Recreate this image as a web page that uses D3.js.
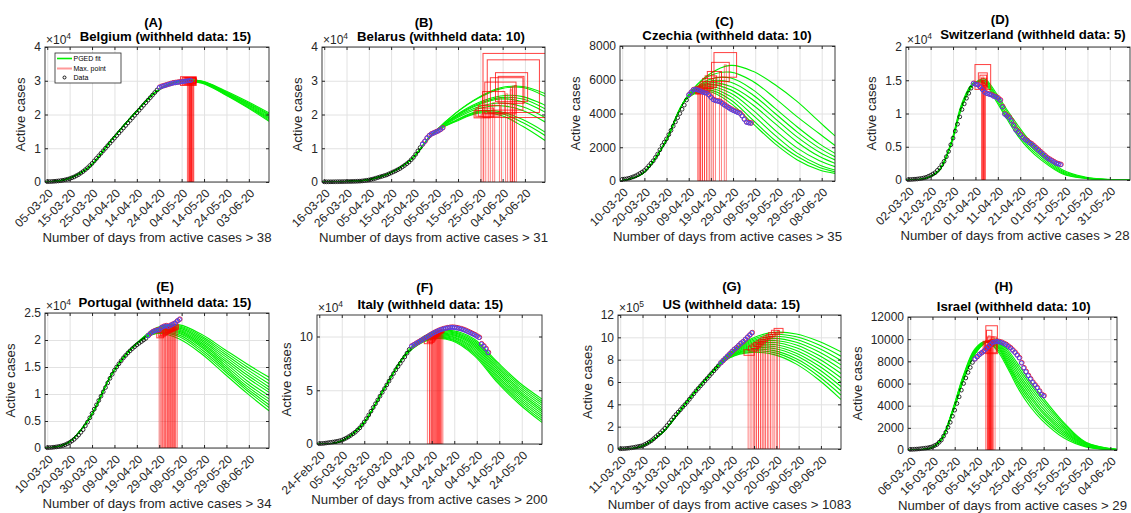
<!DOCTYPE html>
<html>
<head>
<meta charset="utf-8">
<script src="https://cdn.jsdelivr.net/npm/d3@7"></script>
<style>
  html, body { margin: 0; padding: 0; background: #fff; }
  svg { display: block; font-family: "Liberation Sans", Arial, Helvetica, sans-serif; }
</style>
</head>
<body>
<svg id="fig" width="1131" height="513"></svg>
<script>
'use strict'

// ---- shared axis data ----
const tickDays = [1, 11, 21, 31, 41, 51, 61, 71, 81, 91]
const tenDays = [0, 10, 20, 30, 40, 50, 60, 70, 80, 90, 100]

// ---- (A) Belgium ----  (observations are daily, starting at day 1)
const belgiumTicks = ['05-03-20', '15-03-20', '25-03-20', '04-04-20', '14-04-20', '24-04-20', '04-05-20', '14-05-20', '24-05-20', '03-06-20']
const belgiumObs = [100, 120, 150, 200, 250, 320, 400, 520, 650, 800, 1000, 1250, 1500, 1850, 2200, 2650, 3100, 3650, 4200, 4850,
  5500, 6250, 7000, 7750, 8500, 9250, 10000, 10750, 11500, 12250, 13000, 13750, 14500, 15250, 16000, 16750, 17500, 18250, 19000, 19750,
  20500, 21250, 22000, 22750, 23500, 24250, 25000, 25750, 26500, 27250]
const belgiumNew = [28000, 28300, 28500, 28700, 28900, 29100, 29300, 29400, 29500, 29600, 29700, 29800, 29900, 30000, 30100]
const belgiumFits = [
  [0, 900, 4600, 12700, 20300, 27000, 30000, 29900, 27200, 24000, 20500],
  [0, 900, 4600, 12700, 20300, 27000, 30000, 29850, 27000, 23700, 20100],
  [0, 900, 4600, 12700, 20300, 27000, 29950, 29800, 26850, 23450, 19800],
  [0, 900, 4600, 12700, 20300, 27000, 29900, 29700, 26650, 23200, 19400],
  [0, 900, 4600, 12700, 20300, 26950, 29850, 29600, 26500, 22950, 19050],
  [0, 900, 4600, 12700, 20300, 26950, 29800, 29500, 26300, 22700, 18700],
  [0, 900, 4600, 12700, 20300, 26900, 29750, 29400, 26150, 22450, 18350],
  [0, 900, 4600, 12700, 20300, 26900, 29700, 29300, 26000, 22200, 18000]
]
// [day, value, half-width in days, half-height in cases]
const belgiumPeaks = [[64.0, 29900, 3.5, 1300], [64.3, 29900, 3, 1100], [64.6, 29950, 2.5, 1000], [64.9, 30000, 2.2, 900],
  [65.2, 30000, 2, 800], [65.5, 30050, 1.8, 700], [65.8, 30100, 1.6, 700], [66.0, 30150, 1.5, 600]]

// ---- (B) Belarus ----
const belarusTicks = ['16-03-20', '26-03-20', '05-04-20', '15-04-20', '25-04-20', '05-05-20', '15-05-20', '25-05-20', '04-06-20', '14-06-20']
const belarusObs = [50, 55, 60, 65, 70, 80, 90, 100, 110, 120, 130, 145, 160, 180, 200, 230, 260, 320, 400, 500,
  600, 750, 900, 1100, 1300, 1500, 1700, 1900, 2100, 2400, 2700, 3000, 3300, 3650, 4000, 4450, 4900, 5400, 5900, 6600,
  7300, 8200, 9200, 10200]
const belarusNew = [11200, 12000, 13000, 13700, 14200, 14500, 14800, 15100, 15500, 16000]
const belarusFits = [
  [0, 120, 600, 2500, 6700, 14500, 20500, 25000, 27900, 28300, 26200],
  [0, 120, 600, 2500, 6700, 14500, 20400, 24800, 27600, 28000, 25400],
  [0, 120, 600, 2500, 6700, 14500, 19800, 23500, 25500, 25300, 22700],
  [0, 120, 600, 2500, 6700, 14500, 19600, 23100, 25000, 24600, 21700],
  [0, 120, 600, 2500, 6700, 14500, 19400, 22800, 24600, 23800, 20700],
  [0, 120, 600, 2500, 6700, 14500, 19100, 22200, 23400, 22300, 19100],
  [0, 120, 600, 2500, 6700, 14500, 18800, 21700, 22600, 21200, 17800],
  [0, 120, 600, 2500, 6700, 14500, 18300, 21000, 20800, 18500, 14800],
  [0, 120, 600, 2500, 6700, 14500, 18100, 20700, 20400, 17600, 13800],
  [0, 120, 600, 2500, 6700, 14500, 17900, 20400, 19800, 16500, 12300]
]
const belarusPeaks = [[86.7, 28600, 14.5, 9500], [85.8, 28400, 11.7, 7800], [85, 28100, 7.2, 4300], [84.8, 27300, 5.8, 4000],
  [82.8, 26100, 7.3, 4800], [80, 24900, 7, 4700], [77, 23500, 5, 3300], [75, 21100, 4.9, 1600], [73, 20600, 4, 1300], [71.8, 20100, 3.6, 1100]]

// ---- (C) Czechia ----
const czechiaTicks = ['10-03-20', '20-03-20', '30-03-20', '09-04-20', '19-04-20', '29-04-20', '09-05-20', '19-05-20', '29-05-20', '08-06-20']
const czechiaObs = [100, 115, 130, 160, 200, 250, 300, 370, 450, 530, 620, 750, 900, 1050, 1200, 1400, 1600, 1850, 2100, 2300,
  2500, 2750, 3000, 3250, 3500, 3750, 4000, 4250, 4500, 4800]
const czechiaNew = [5100, 5250, 5400, 5430, 5400, 5350, 5280, 5230, 5200, 5100, 4950, 4820, 4760, 4730, 4700, 4600, 4500, 4420, 4330,
  4250, 4180, 4120, 4060, 4010, 3850, 3650, 3480, 3440, 3420]
const czechiaFitDays = [0, 10, 20, 30, 40, 50, 60, 70, 80, 90, 97]
const czechiaFits = [
  [0, 420, 2200, 4950, 6300, 6850, 6500, 5700, 4700, 3500, 2670],
  [0, 420, 2200, 4940, 6200, 6450, 5900, 4900, 3800, 2800, 2100],
  [0, 420, 2200, 4930, 6000, 6100, 5400, 4300, 3200, 2200, 1640],
  [0, 420, 2200, 4920, 5900, 5850, 5100, 4000, 2900, 1950, 1440],
  [0, 420, 2200, 4910, 5800, 5600, 4800, 3700, 2600, 1700, 1250],
  [0, 420, 2200, 4900, 5700, 5400, 4500, 3400, 2300, 1450, 1050],
  [0, 420, 2200, 4890, 5600, 5200, 4200, 3000, 1950, 1200, 850],
  [0, 420, 2200, 4880, 5500, 5000, 3900, 2700, 1650, 950, 650],
  [0, 420, 2200, 4870, 5400, 4800, 3600, 2400, 1450, 800, 550],
  [0, 420, 2200, 4860, 5300, 4600, 3400, 2200, 1250, 650, 450]
]
const czechiaPeaks = [[47.5, 6880, 5.1, 730], [45.3, 6460, 4, 570], [42.6, 6090, 3.2, 400], [41, 5890, 2.6, 340], [39.7, 5780, 2.4, 300],
  [38.6, 5620, 2.1, 270], [37.7, 5500, 1.8, 240], [36.8, 5420, 1.6, 220], [36, 5380, 1.5, 200], [35.5, 5350, 1.4, 200]]

// ---- (D) Switzerland ----
const swissTicks = ['02-03-20', '12-03-20', '22-03-20', '01-04-20', '11-04-20', '21-04-20', '01-05-20', '11-05-20', '21-05-20', '31-05-20']
const swissObs = [50, 75, 100, 125, 150, 200, 250, 320, 400, 550, 700, 900, 1100, 1450, 1800, 2300, 2800, 3500, 4300, 5300,
  6300, 7350, 8400, 9500, 10600, 11450, 12300, 13050, 13800]
const swissNew = [14500, 14400, 14300, 14000, 13600, 13200, 13000, 12900, 12800, 12600, 12500, 12300, 12000, 11000, 9900, 9600, 9400,
  8900, 8200, 7500, 7200, 6800, 6400, 6100, 5900, 5600, 5400, 5100, 4800, 4500, 4200, 3900, 3600, 3300, 3100, 2900, 2700, 2500, 2400, 2300]
const swissFitDays = [0, 5, 10, 15, 20, 25, 30, 35, 40, 45, 50, 55, 60, 70, 80, 90, 100]
const swissFits = [
  [0, 60, 400, 1500, 5200, 11000, 14300, 15200, 13200, 10600, 8200, 6000, 4400, 1500, 450, 100, 20],
  [0, 60, 400, 1500, 5200, 11000, 14300, 15000, 12900, 10300, 7800, 5700, 4100, 1300, 380, 80, 15],
  [0, 60, 400, 1500, 5300, 11200, 14400, 14900, 12600, 9900, 7400, 5300, 3700, 1150, 320, 70, 10],
  [0, 60, 400, 1600, 5400, 11400, 14500, 14700, 12300, 9500, 7000, 4900, 3400, 1000, 280, 60, 10],
  [0, 60, 400, 1600, 5500, 11600, 14600, 14500, 12000, 9200, 6600, 4600, 3100, 900, 250, 50, 10]
]
const swissPeaks = [[34.3, 15490, 3.5, 1870], [34.3, 14940, 2, 1170], [34.5, 14840, 1.5, 920], [34.8, 14700, 1.2, 600], [35, 14600, 0.9, 400]]

// ---- (E) Portugal ----
const portugalTicks = ['10-03-20', '20-03-20', '30-03-20', '09-04-20', '19-04-20', '29-04-20', '09-05-20', '19-05-20', '29-05-20', '08-06-20']
const portugalObs = [50, 75, 100, 150, 200, 270, 350, 470, 600, 800, 1000, 1300, 1600, 2000, 2400, 2900, 3400, 4100, 4800, 5600,
  6400, 7200, 8000, 8800, 9600, 10400, 11200, 12050, 12900, 13650, 14400, 15000, 15600, 16150, 16700, 17150, 17600, 18000, 18400, 18750,
  19100, 19400, 19700, 20000, 20300]
const portugalNew = [20800, 21200, 21500, 21700, 21800, 21900, 22300, 22500, 22600, 22500, 22700, 22900, 23100, 23500, 23800]
const portugalFits = [
  [0, 900, 5600, 13800, 19000, 22300, 22800, 21000, 18300, 15600, 13100],
  [0, 900, 5600, 13800, 19000, 22200, 22600, 20700, 17900, 15100, 12500],
  [0, 900, 5600, 13800, 19000, 22100, 22400, 20400, 17500, 14600, 11900],
  [0, 900, 5600, 13800, 19000, 22000, 22200, 20100, 17100, 14100, 11300],
  [0, 900, 5600, 13800, 19000, 21900, 22000, 19800, 16700, 13600, 10800],
  [0, 900, 5600, 13800, 19000, 21800, 21800, 19500, 16300, 13100, 10300],
  [0, 900, 5600, 13800, 19000, 21700, 21600, 19200, 15900, 12500, 9700],
  [0, 900, 5600, 13800, 19000, 21600, 21400, 18900, 15500, 12000, 9100],
  [0, 900, 5600, 13800, 19000, 21500, 21200, 18600, 15100, 11500, 8600],
  [0, 900, 5600, 13800, 19000, 21400, 20900, 18200, 14700, 11100, 8000],
  [0, 900, 5600, 13800, 19000, 21300, 20600, 17800, 14300, 10700, 7500],
  [0, 900, 5600, 13800, 19000, 21200, 20200, 17400, 13800, 10200, 6900]
]
const portugalPeaks = [[51.4, 20900, 1.5, 500], [52.2, 21100, 1.4, 500], [53, 21300, 1.4, 480], [53.6, 21500, 1.3, 460], [54.3, 21700, 1.3, 450],
  [55, 21800, 1.2, 440], [55.6, 21900, 1.2, 430], [56.2, 22000, 1.2, 420], [56.8, 22100, 1.1, 410], [57.4, 22200, 1.1, 400], [58, 22300, 1, 400], [58.6, 22400, 1, 400]]

// ---- (F) Italy ----
const italyTicks = ['24-Feb-20', '05-03-20', '15-03-20', '25-03-20', '04-04-20', '14-04-20', '24-04-20', '04-05-20', '14-05-20', '24-05-20']
const italyObs = [300, 450, 600, 900, 1200, 1500, 1800, 2150, 2500, 3000, 3500, 4500, 5500, 6700, 8000, 9500, 11000, 13000, 15000, 17700,
  20500, 23700, 27000, 30500, 34000, 37500, 41000, 44500, 48000, 51500, 55000, 58500, 62000, 65500, 69000, 72000, 75000, 78000, 81000, 84500, 88000]
const italyNew = [91000, 92200, 93500, 94700, 96000, 97200, 98500, 99700, 101000, 102300, 103500, 104500, 105500, 106300, 107000, 107500,
  108000, 108300, 108500, 108300, 108000, 107500, 107000, 106300, 105500, 104500, 103500, 102500, 101500, 100200, 99000, 93000, 91000, 88500, 85000]
const italyFits = [
  [0, 2000, 17500, 52000, 85500, 103000, 105500, 97500, 76500, 57000, 41800],
  [0, 2000, 17500, 52000, 85400, 102500, 104600, 96100, 74800, 55200, 39800],
  [0, 2000, 17500, 52000, 85300, 101900, 103800, 94700, 73000, 53400, 37900],
  [0, 2000, 17500, 52000, 85100, 101400, 102900, 93300, 71300, 51500, 35900],
  [0, 2000, 17500, 52000, 85000, 100800, 102000, 91900, 69600, 49700, 33900],
  [0, 2000, 17500, 52000, 84900, 100300, 101200, 90500, 67900, 47900, 31900],
  [0, 2000, 17500, 52000, 84700, 99700, 100300, 89000, 66100, 46100, 30000],
  [0, 2000, 17500, 52000, 84600, 99200, 99500, 87600, 64400, 44300, 28000],
  [0, 2000, 17500, 52000, 84500, 98600, 98600, 86200, 62700, 42500, 26000],
  [0, 2000, 17500, 52000, 84300, 98100, 97700, 84800, 60900, 40600, 24100],
  [0, 2000, 17500, 52000, 84200, 97500, 96900, 83400, 59200, 38800, 22100],
  [0, 2000, 17500, 52000, 84000, 97000, 96000, 82000, 57500, 37000, 20100]
]
const italyPeaks = [[49.5, 95500, 1.8, 2200], [50.5, 96500, 1.5, 2000], [51, 97500, 1.4, 1800], [51.5, 98500, 1.3, 1700], [52, 99500, 1.2, 1600],
  [52.5, 100500, 1.2, 1500], [53, 101500, 1.1, 1500], [53.5, 102500, 1.1, 1400], [54, 103500, 1, 1400], [54.5, 104000, 1, 1300], [55, 104500, 1, 1300], [55.5, 105000, 1, 1200]]

// ---- (G) US ----
const usTicks = ['11-03-20', '21-03-20', '31-03-20', '10-04-20', '20-04-20', '30-04-20', '10-05-20', '20-05-20', '30-05-20', '09-06-20']
const usObs = [2000, 3000, 4000, 6000, 8000, 11000, 14000, 18000, 22000, 26000, 30000, 40000, 50000, 62000, 75000, 92000, 110000, 127000,
  145000, 165000, 185000, 210000, 235000, 260000, 285000, 308000, 330000, 352000, 375000, 397000, 420000, 445000, 470000, 495000, 520000,
  542000, 565000, 587000, 610000, 632000, 655000, 677000, 700000, 722000, 745000]
const usNew = [770000, 790000, 810000, 830000, 850000, 870000, 890000, 905000, 925000, 945000, 960000, 980000, 1000000, 1020000, 1040000]
const usFits = [
  [0, 20000, 150000, 400000, 640000, 860000, 990000, 1045000, 1030000, 965000, 870000],
  [0, 20000, 150000, 400000, 640000, 856000, 979000, 1027000, 1005000, 934000, 831000],
  [0, 20000, 150000, 400000, 640000, 852000, 967000, 1009000, 981000, 902000, 793000],
  [0, 20000, 150000, 400000, 640000, 848000, 956000, 991000, 956000, 871000, 754000],
  [0, 20000, 150000, 400000, 640000, 844000, 945000, 972000, 932000, 839000, 715000],
  [0, 20000, 150000, 400000, 640000, 840000, 933000, 954000, 907000, 808000, 676000],
  [0, 20000, 150000, 400000, 640000, 835000, 922000, 936000, 883000, 777000, 638000],
  [0, 20000, 150000, 400000, 640000, 831000, 911000, 918000, 858000, 745000, 599000],
  [0, 20000, 150000, 400000, 640000, 827000, 899000, 900000, 834000, 714000, 560000],
  [0, 20000, 150000, 400000, 640000, 823000, 888000, 881000, 809000, 683000, 521000],
  [0, 20000, 150000, 400000, 640000, 819000, 876000, 863000, 785000, 651000, 483000],
  [0, 20000, 150000, 400000, 640000, 815000, 865000, 845000, 760000, 620000, 444000]
]
const usPeaks = [[58.8, 864000, 2.3, 25000], [60.5, 900000, 2, 22000], [61.5, 920000, 1.8, 20000], [62.5, 935000, 1.7, 19000],
  [63.5, 950000, 1.6, 18000], [64.5, 965000, 1.5, 17000], [65.5, 980000, 1.5, 17000], [66.5, 995000, 1.4, 16000],
  [67.8, 1010000, 1.4, 16000], [69, 1025000, 1.5, 17000], [70.5, 1045000, 1.7, 18000], [72, 1060000, 2, 20000]]

// ---- (H) Israel ----
const israelTicks = ['06-03-20', '16-03-20', '26-03-20', '05-04-20', '15-04-20', '25-04-20', '05-05-20', '15-05-20', '25-05-20', '04-06-20']
const israelObs = [50, 60, 70, 85, 100, 125, 150, 175, 200, 250, 300, 400, 500, 700, 900, 1250, 1600, 2050, 2500, 3050,
  3600, 4200, 4800, 5400, 6000, 6500, 7000, 7450, 7900]
const israelNew = [8200, 8400, 8600, 8750, 8900, 9100, 9300, 9500, 9700, 9750, 9800, 9750, 9700, 9600, 9500, 9350, 9200, 9000, 8800,
  8550, 8300, 7850, 7400, 7050, 6700, 6400, 6100, 5850, 5600, 5300, 5000, 4880]
const israelFitDays = [0, 5, 10, 15, 20, 25, 30, 35, 40, 45, 50, 55, 60, 70, 80, 94]
const israelFits = [
  [0, 20, 150, 900, 3300, 6300, 8600, 9700, 10000, 9000, 7600, 6200, 4900, 2500, 700, 60],
  [0, 20, 150, 910, 3330, 6350, 8650, 9710, 9900, 8800, 7350, 5950, 4650, 2350, 660, 50],
  [0, 20, 150, 920, 3360, 6400, 8700, 9720, 9800, 8600, 7100, 5700, 4400, 2200, 620, 45],
  [0, 20, 150, 930, 3390, 6450, 8750, 9730, 9700, 8400, 6850, 5450, 4150, 2050, 570, 40],
  [0, 20, 150, 940, 3420, 6500, 8800, 9740, 9600, 8200, 6600, 5200, 3900, 1900, 520, 35],
  [0, 20, 150, 950, 3450, 6550, 8850, 9750, 9500, 8000, 6350, 4950, 3650, 1750, 470, 30],
  [0, 20, 150, 960, 3480, 6600, 8900, 9760, 9400, 7800, 6100, 4700, 3450, 1600, 420, 25],
  [0, 20, 150, 970, 3510, 6650, 8950, 9770, 9300, 7650, 5900, 4450, 3200, 1450, 370, 20],
  [0, 20, 150, 985, 3550, 6720, 9020, 9790, 9150, 7500, 5650, 4200, 3000, 1280, 320, 15],
  [0, 20, 150, 1000, 3600, 6800, 9100, 9800, 9000, 7300, 5400, 3900, 2750, 1100, 280, 10]
]
const israelPeaks = [[37.6, 9950, 2.6, 1260], [36.8, 9290, 3, 520], [36.5, 10300, 1.2, 500], [37.2, 9800, 1.5, 400], [36, 9500, 1.2, 350],
  [37.8, 9700, 1, 300], [35.4, 9400, 1, 300], [38.7, 9900, 1, 300], [36.4, 9200, 0.8, 250], [37, 9600, 0.8, 250]]

// ---- panel definitions ----
const panels = [
  { letter: 'A', country: 'Belgium', withheld: 15, threshold: 38, xMax: 100, yMax: 40000, yTicks: [0, 1e4, 2e4, 3e4, 4e4], yLabels: ['0', '1', '2', '3', '4'], yExp: 4,
    ticks: belgiumTicks, obs: belgiumObs, recent: belgiumNew, recentStart: 51, fitDays: tenDays, fits: belgiumFits, peaks: belgiumPeaks },
  { letter: 'B', country: 'Belarus', withheld: 10, threshold: 31, xMax: 100, yMax: 40000, yTicks: [0, 1e4, 2e4, 3e4, 4e4], yLabels: ['0', '1', '2', '3', '4'], yExp: 4,
    ticks: belarusTicks, obs: belarusObs, recent: belarusNew, recentStart: 45, fitDays: tenDays, fits: belarusFits, peaks: belarusPeaks },
  { letter: 'C', country: 'Czechia', withheld: 10, threshold: 35, xMax: 97, yMax: 8000, yTicks: [0, 2000, 4000, 6000, 8000], yLabels: ['0', '2000', '4000', '6000', '8000'], yExp: null,
    ticks: czechiaTicks, obs: czechiaObs, recent: czechiaNew, recentStart: 31, fitDays: czechiaFitDays, fits: czechiaFits, peaks: czechiaPeaks },
  { letter: 'D', country: 'Switzerland', withheld: 5, threshold: 28, xMax: 100, yMax: 20000, yTicks: [0, 5000, 10000, 15000, 20000], yLabels: ['0', '0.5', '1', '1.5', '2'], yExp: 4,
    ticks: swissTicks, obs: swissObs, recent: swissNew, recentStart: 30, fitDays: swissFitDays, fits: swissFits, peaks: swissPeaks },
  { letter: 'E', country: 'Portugal', withheld: 15, threshold: 34, xMax: 100, yMax: 25000, yTicks: [0, 5000, 10000, 15000, 20000, 25000], yLabels: ['0', '0.5', '1', '1.5', '2', '2.5'], yExp: 4,
    ticks: portugalTicks, obs: portugalObs, recent: portugalNew, recentStart: 46, fitDays: tenDays, fits: portugalFits, peaks: portugalPeaks },
  { letter: 'F', country: 'Italy', withheld: 15, threshold: 200, xMax: 100, yMax: 120000, yTicks: [0, 50000, 100000], yLabels: ['0', '5', '10'], yExp: 4,
    ticks: italyTicks, obs: italyObs, recent: italyNew, recentStart: 42, fitDays: tenDays, fits: italyFits, peaks: italyPeaks },
  { letter: 'G', country: 'US', withheld: 15, threshold: 1083, xMax: 100, yMax: 1200000, yTicks: [0, 2e5, 4e5, 6e5, 8e5, 1e6, 1.2e6], yLabels: ['0', '2', '4', '6', '8', '10', '12'], yExp: 5,
    ticks: usTicks, obs: usObs, recent: usNew, recentStart: 46, fitDays: tenDays, fits: usFits, peaks: usPeaks },
  { letter: 'H', country: 'Israel', withheld: 10, threshold: 29, xMax: 94, yMax: 12000, yTicks: [0, 2000, 4000, 6000, 8000, 10000, 12000], yLabels: ['0', '2000', '4000', '6000', '8000', '10000', '12000'], yExp: null,
    ticks: israelTicks, obs: israelObs, recent: israelNew, recentStart: 30, fitDays: israelFitDays, fits: israelFits, peaks: israelPeaks }
]

// layout: axes boxes [left, top, right, bottom] and title anchors [letterX, letterY, titleX, titleY], px
const boxes = {
  A: [45, 47, 269, 182], B: [322, 47, 545, 182], C: [620, 46, 835, 181], D: [906, 47, 1130, 180],
  E: [45, 313, 269, 448], F: [317, 315, 542, 444], G: [618, 315, 841, 449], H: [908, 317, 1117, 450]
}
const titleAt = {
  A: [153.3, 27.3, 165.5, 41.2], B: [423.8, 26.5, 441, 41.2], C: [724.5, 26.2, 727, 39.5], D: [1000, 23.8, 1033, 38.8],
  E: [165, 290.5, 165, 307.2], F: [424.7, 292, 430.3, 308.8], G: [731.7, 290.5, 731.3, 308.8], H: [1003.7, 290.5, 1013.7, 310.5]
}

const svg = d3.select('#fig')
const figWidth = 1131
const axisColor = '#262626'
const fitColor = '#00f000'
const tickFont = 12
const labelFont = 13.2

panels.forEach(p => drawPanel(p, boxes[p.letter], titleAt[p.letter]))
drawLegend()

function drawPanel (p, box, tAt) {
  const [x0, y0, x1, y1] = box
  const x = d3.scaleLinear().domain([0, p.xMax]).range([x0, x1])
  const y = d3.scaleLinear().domain([0, p.yMax]).range([y1, y0])
  const g = svg.append('g')

  svg.append('clipPath').attr('id', 'clip-' + p.letter)
    .append('rect').attr('x', x0).attr('y', y0).attr('width', x1 - x0).attr('height', y1 - y0)

  // grid
  g.append('g').attr('transform', `translate(0,${y1})`)
    .call(d3.axisBottom(x).tickValues(tickDays).tickSize(-(y1 - y0)).tickFormat(''))
    .call(a => a.select('.domain').remove())
    .selectAll('line').attr('stroke', '#e2e2e2')
  g.append('g').attr('transform', `translate(${x0},0)`)
    .call(d3.axisLeft(y).tickValues(p.yTicks).tickSize(-(x1 - x0)).tickFormat(''))
    .call(a => a.select('.domain').remove())
    .selectAll('line').attr('stroke', '#e2e2e2')

  const plot = g.append('g').attr('clip-path', `url(#clip-${p.letter})`)

  // PGED fits
  const line = d3.line()
    .x((d, i) => x(p.fitDays[i]))
    .y(d => y(d))
    .curve(d3.curveCatmullRom.alpha(0.5))
  plot.selectAll('path.fit').data(p.fits).join('path')
    .attr('class', 'fit')
    .attr('d', line)
    .attr('fill', 'none')
    .attr('stroke', fitColor)
    .attr('stroke-width', 1.1)

  // max points: bar to the axis plus uncertainty box
  plot.selectAll('rect.bar').data(p.peaks).join('rect')
    .attr('class', 'bar')
    .attr('x', d => x(d[0] - 0.45))
    .attr('width', d => x(d[0] + 0.45) - x(d[0] - 0.45))
    .attr('y', d => y(d[1]))
    .attr('height', d => y(0) - y(d[1]))
    .attr('fill', 'none')
    .attr('stroke', '#ff0000')
    .attr('stroke-opacity', 0.55)
    .attr('stroke-width', 0.9)
  plot.selectAll('rect.err').data(p.peaks).join('rect')
    .attr('class', 'err')
    .attr('x', d => x(d[0] - d[2]))
    .attr('width', d => x(d[0] + d[2]) - x(d[0] - d[2]))
    .attr('y', d => y(d[1] + d[3]))
    .attr('height', d => y(d[1] - d[3]) - y(d[1] + d[3]))
    .attr('fill', 'none')
    .attr('stroke', '#ff0000')
    .attr('stroke-opacity', 0.75)
    .attr('stroke-width', 1)

  // training data (black circles), one per day from day 1
  const obsPts = p.obs.map((v, i) => [1 + i, v])
  g.selectAll('circle.obs').data(obsPts).join('circle')
    .attr('class', 'obs')
    .attr('cx', d => x(d[0]))
    .attr('cy', d => y(d[1]))
    .attr('r', 1.9)
    .attr('fill', 'none')
    .attr('stroke', '#000')
    .attr('stroke-width', 0.8)

  // later data (red + blue circles)
  const newPts = p.recent.map((v, i) => [p.recentStart + i, v])
  g.selectAll('circle.newr').data(newPts).join('circle')
    .attr('class', 'newr')
    .attr('cx', d => x(d[0]) + 0.4)
    .attr('cy', d => y(d[1]) - 0.3)
    .attr('r', 2.3)
    .attr('fill', 'none')
    .attr('stroke', '#e8203a')
    .attr('stroke-width', 1)
  g.selectAll('circle.newb').data(newPts).join('circle')
    .attr('class', 'newb')
    .attr('cx', d => x(d[0]))
    .attr('cy', d => y(d[1]))
    .attr('r', 2)
    .attr('fill', 'none')
    .attr('stroke', '#3a46ff')
    .attr('stroke-opacity', 0.85)
    .attr('stroke-width', 1)

  // box
  g.append('rect')
    .attr('x', x0).attr('y', y0).attr('width', x1 - x0).attr('height', y1 - y0)
    .attr('fill', 'none').attr('stroke', axisColor).attr('stroke-width', 0.9)

  // inward ticks on all four sides
  const xb = g.append('g').attr('transform', `translate(0,${y1})`)
    .call(d3.axisBottom(x).tickValues(tickDays).tickSizeInner(-3).tickSizeOuter(0).tickFormat((d, i) => p.ticks[i]))
  xb.select('.domain').remove()
  xb.selectAll('line').attr('stroke', axisColor)
  xb.selectAll('text')
    .attr('x', 0).attr('y', 0).attr('dy', 0)
    .attr('transform', 'translate(6,12) rotate(-45)')
    .attr('text-anchor', 'end')
    .attr('font-size', tickFont)
    .attr('font-family', '"Liberation Sans", Arial, sans-serif')
    .attr('fill', axisColor)

  g.append('g').attr('transform', `translate(0,${y0})`)
    .call(d3.axisTop(x).tickValues(tickDays).tickSizeInner(-3).tickSizeOuter(0).tickFormat(''))
    .call(a => a.select('.domain').remove())
    .selectAll('line').attr('stroke', axisColor)

  const yl = g.append('g').attr('transform', `translate(${x0},0)`)
    .call(d3.axisLeft(y).tickValues(p.yTicks).tickSizeInner(-3).tickSizeOuter(0).tickPadding(6).tickFormat((d, i) => p.yLabels[i]))
  yl.select('.domain').remove()
  yl.selectAll('line').attr('stroke', axisColor)
  yl.selectAll('text')
    .attr('x', -4)
    .attr('font-size', tickFont)
    .attr('font-family', '"Liberation Sans", Arial, sans-serif')
    .attr('fill', axisColor)

  g.append('g').attr('transform', `translate(${x1},0)`)
    .call(d3.axisRight(y).tickValues(p.yTicks).tickSizeInner(-3).tickSizeOuter(0).tickFormat(''))
    .call(a => a.select('.domain').remove())
    .selectAll('line').attr('stroke', axisColor)

  // widest y tick label decides where the y label sits
  let maxW = 0
  yl.selectAll('text').each(function () { maxW = Math.max(maxW, this.getComputedTextLength()) })

  if (p.yExp) {
    const ex = g.append('text')
      .attr('x', x0 + 1).attr('y', y0 - 3.5)
      .attr('font-size', tickFont).attr('fill', axisColor)
    ex.append('tspan').text('\u00d710')
    ex.append('tspan').text(p.yExp).attr('font-size', 8.5).attr('dy', -5)
  }

  g.append('text')
    .attr('transform', `translate(${x0 - maxW - 13},${(y0 + y1) / 2}) rotate(-90)`)
    .attr('text-anchor', 'middle')
    .attr('font-size', labelFont)
    .attr('fill', axisColor)
    .text('Active cases')

  // x label, nudged left if it would run past the figure edge
  const xlab = g.append('text')
    .attr('x', (x0 + x1) / 2).attr('y', y1 + 60)
    .attr('text-anchor', 'middle')
    .attr('font-size', labelFont)
    .attr('fill', axisColor)
    .text('Number of days from active cases > ' + p.threshold)
  const half = xlab.node().getComputedTextLength() / 2
  const over = (x0 + x1) / 2 + half - (figWidth - 1.5)
  if (over > 0) xlab.attr('x', (x0 + x1) / 2 - over)

  g.append('text')
    .attr('x', tAt[0]).attr('y', tAt[1])
    .attr('text-anchor', 'middle')
    .attr('font-size', labelFont).attr('font-weight', 'bold')
    .attr('fill', '#000')
    .text('(' + p.letter + ')')

  g.append('text')
    .attr('x', tAt[2]).attr('y', tAt[3])
    .attr('text-anchor', 'middle')
    .attr('font-size', labelFont).attr('font-weight', 'bold')
    .attr('fill', '#000')
    .text(p.country + ' (withheld data: ' + p.withheld + ')')
}

function drawLegend () {
  const lg = svg.append('g').attr('transform', 'translate(55,53)')
  lg.append('rect').attr('width', 66).attr('height', 30)
    .attr('fill', '#fff').attr('stroke', axisColor).attr('stroke-width', 0.8)
  lg.append('line').attr('x1', 2).attr('x2', 17).attr('y1', 5.5).attr('y2', 5.5)
    .attr('stroke', fitColor).attr('stroke-width', 1.6)
  lg.append('line').attr('x1', 2).attr('x2', 17).attr('y1', 15.5).attr('y2', 15.5)
    .attr('stroke', '#ff0000').attr('stroke-opacity', 0.4).attr('stroke-width', 2)
  lg.append('circle').attr('cx', 9.5).attr('cy', 24.5).attr('r', 1.5)
    .attr('fill', 'none').attr('stroke', '#000').attr('stroke-width', 0.9)
  const labels = ['PGED fit', 'Max. point', 'Data']
  lg.selectAll('text').data(labels).join('text')
    .attr('x', 18.5)
    .attr('y', (d, i) => [8, 18, 27][i])
    .attr('font-size', 7)
    .attr('fill', '#000')
    .text(d => d)
}
</script>
</body>
</html>
